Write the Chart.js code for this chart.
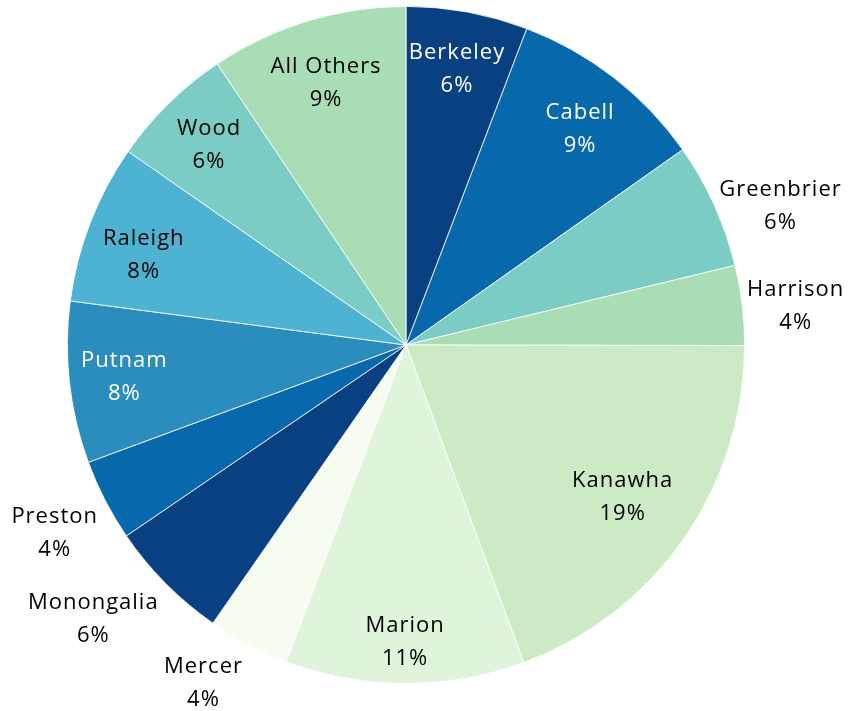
<!DOCTYPE html>
<html>
<head>
<meta charset="utf-8">
<script src="https://cdn.jsdelivr.net/npm/chart.js@4"></script>
<style>
  html, body { margin: 0; padding: 0; background: #fff; }
  canvas { display: block; }
</style>
</head>
<body>
<canvas id="pieChart" width="850" height="711"></canvas>
<script>
// County share of total, clockwise from 12 o'clock
const counties = ['Berkeley', 'Cabell', 'Greenbrier', 'Harrison', 'Kanawha', 'Marion', 'Mercer',
                  'Monongalia', 'Preston', 'Putnam', 'Raleigh', 'Wood', 'All Others'];
const shares = [5.8, 9.4, 6.0, 3.8, 19.3, 11.4, 3.9, 5.8, 3.9, 7.7, 7.6, 5.9, 9.4];

const sliceColors = ['#084081', '#0868ac', '#7bccc4', '#a8ddb5', '#ccebc5', '#e0f3db', '#f7fcf0',
                     '#084081', '#0868ac', '#2b8cbe', '#4eb3d3', '#7bccc4', '#a8ddb5'];
const labelColors = ['#fff', '#fff', '#000', '#000', '#000', '#000', '#000',
                     '#000', '#000', '#fff', '#000', '#000', '#000'];
// label placement: distance from centre (fraction of radius) and a small turn in degrees
const labelRadius = [0.83, 0.82, 1.18, 1.157, 0.78, 0.875, 1.163, 1.227, 1.175, 0.837, 0.82, 0.83, 0.81];
const labelTurn = [0, 1, 4, 0.9, 0, 0, 3.2, 3.6, -0.7, 0, -2, 0, 0];

const sliceLabels = {
  id: 'sliceLabels',
  afterDatasetsDraw(chart) {
    const { ctx } = chart;
    const meta = chart.getDatasetMeta(0);
    ctx.save();
    ctx.font = '22px "Open Sans", sans-serif';
    ctx.letterSpacing = '1px';
    ctx.textAlign = 'center';
    ctx.textBaseline = 'middle';
    meta.data.forEach((arc, i) => {
      const { x, y, startAngle, endAngle, outerRadius } =
        arc.getProps(['x', 'y', 'startAngle', 'endAngle', 'outerRadius'], true);
      const mid = (startAngle + endAngle) / 2 + labelTurn[i] * Math.PI / 180;
      const r = outerRadius * labelRadius[i];
      const lx = x + Math.cos(mid) * r;
      const ly = y + Math.sin(mid) * r + 1;
      ctx.fillStyle = labelColors[i];
      ctx.fillText(counties[i], lx, ly - 16.5);
      ctx.fillText(Math.round(shares[i]) + '%', lx, ly + 16.5);
    });
    ctx.restore();
  }
};

new Chart(document.getElementById('pieChart'), {
  type: 'pie',
  data: {
    labels: counties,
    datasets: [{
      data: shares,
      backgroundColor: sliceColors,
      borderColor: '#ffffff',
      borderWidth: 0.8
    }]
  },
  options: {
    responsive: false,
    animation: false,
    layout: { padding: { top: 6, bottom: 27, left: 67, right: 105 } },
    plugins: {
      legend: { display: false },
      tooltip: { enabled: false }
    }
  },
  plugins: [sliceLabels]
});
</script>
</body>
</html>
